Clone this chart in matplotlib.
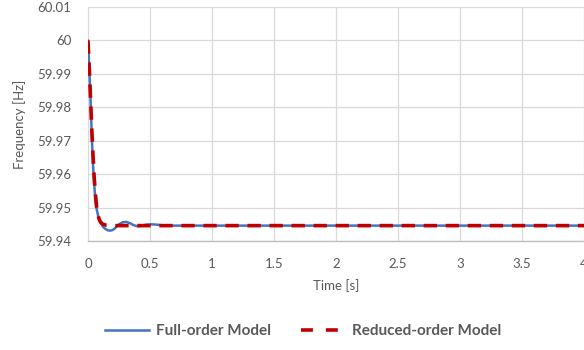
import matplotlib
matplotlib.use("Agg")
import matplotlib.pyplot as plt
from matplotlib.lines import Line2D

plt.rcParams['font.family'] = ['Lato', 'DejaVu Sans']

# Full-order model response
t_full = [0.0, 0.01, 0.02, 0.03, 0.04, 0.05, 0.06, 0.07, 0.08, 0.10, 0.12, 0.14,
          0.16, 0.18, 0.20, 0.22, 0.25, 0.28, 0.31, 0.34, 0.37, 0.40, 0.43,
          0.47, 0.51, 0.55, 0.60, 0.65, 0.70, 0.80, 1.0, 1.5, 2.0, 2.5, 3.0, 3.5, 4.0]
f_full = [60.000, 59.992, 59.983, 59.972, 59.963, 59.957, 59.952, 59.9495, 59.9478,
          59.9455, 59.9443, 59.9436, 59.9432, 59.9431, 59.9433, 59.9439, 59.9450,
          59.9456, 59.9457, 59.9453, 59.9447, 59.9444, 59.9445, 59.9449, 59.9450,
          59.9449, 59.9447, 59.9446, 59.9446, 59.9446, 59.9446, 59.9446, 59.9446,
          59.9446, 59.9446, 59.9446, 59.9446]

# Reduced-order model response
t_red = [0.0, 0.01, 0.02, 0.03, 0.04, 0.05, 0.06, 0.07, 0.08, 0.09, 0.10, 0.12,
         0.15, 0.20, 0.5, 1.0, 2.0, 3.0, 4.0]
f_red = [60.000, 59.992, 59.983, 59.974, 59.966, 59.959, 59.954, 59.950, 59.9478,
         59.9465, 59.9457, 59.9450, 59.9447, 59.9446, 59.9446, 59.9446, 59.9446,
         59.9446, 59.9446]

x_ticks = [0, 0.5, 1, 1.5, 2, 2.5, 3, 3.5, 4]
x_tick_labels = ['0', '0.5', '1', '1.5', '2', '2.5', '3', '3.5', '4']
y_ticks = [59.94, 59.95, 59.96, 59.97, 59.98, 59.99, 60.0, 60.01]
y_tick_labels = ['59.94', '59.95', '59.96', '59.97', '59.98', '59.99', '60', '60.01']

text_gray = '#595959'
blue = '#4472C4'
red = '#C00000'

fig = plt.figure(figsize=(5.84, 3.5), dpi=100)
ax = fig.add_axes([88 / 584, 1 - 241 / 350, (584 - 88) / 584, (241 - 7) / 350])

ax.plot(t_full, f_full, color=blue, lw=1.8, solid_capstyle='round', zorder=3)
ax.plot(t_red, f_red, color=red, lw=2.6, dashes=(3.7, 2.4), zorder=4)

ax.set_xlim(0, 4)
ax.set_ylim(59.94, 60.01)
ax.set_xticks(x_ticks)
ax.set_xticklabels(x_tick_labels)
ax.set_yticks(y_ticks)
ax.set_yticklabels(y_tick_labels)
ax.tick_params(axis='both', length=0, labelsize=9.5, colors=text_gray)
ax.tick_params(axis='x', pad=12)
ax.tick_params(axis='y', pad=12)

ax.grid(True, color='#D9D9D9', lw=0.9)
ax.set_axisbelow(True)
for side in ['top', 'right']:
    ax.spines[side].set_visible(False)
ax.spines['left'].set_color('#D9D9D9')
ax.spines['bottom'].set_color('#BFBFBF')
ax.spines['bottom'].set_linewidth(1.0)

ax.set_xlabel('Time [s]', fontsize=9.5, color=text_gray, labelpad=7)
ax.set_ylabel('Frequency [Hz]', fontsize=9.5, color=text_gray, labelpad=8)

handles = [Line2D([0], [0], color=blue, lw=1.8),
           Line2D([0], [0], color=red, lw=2.6, dashes=(3.3, 3.6))]
fig.legend(handles, ['Full-order Model', 'Reduced-order Model'],
           loc='center', bbox_to_anchor=(303 / 584, 1 - 331 / 350), ncol=2,
           frameon=False, handlelength=2.9, handletextpad=0.4, columnspacing=2.0,
           prop={'size': 11, 'weight': 'bold'}, labelcolor=text_gray)

fig.savefig('out.png', dpi=100)
